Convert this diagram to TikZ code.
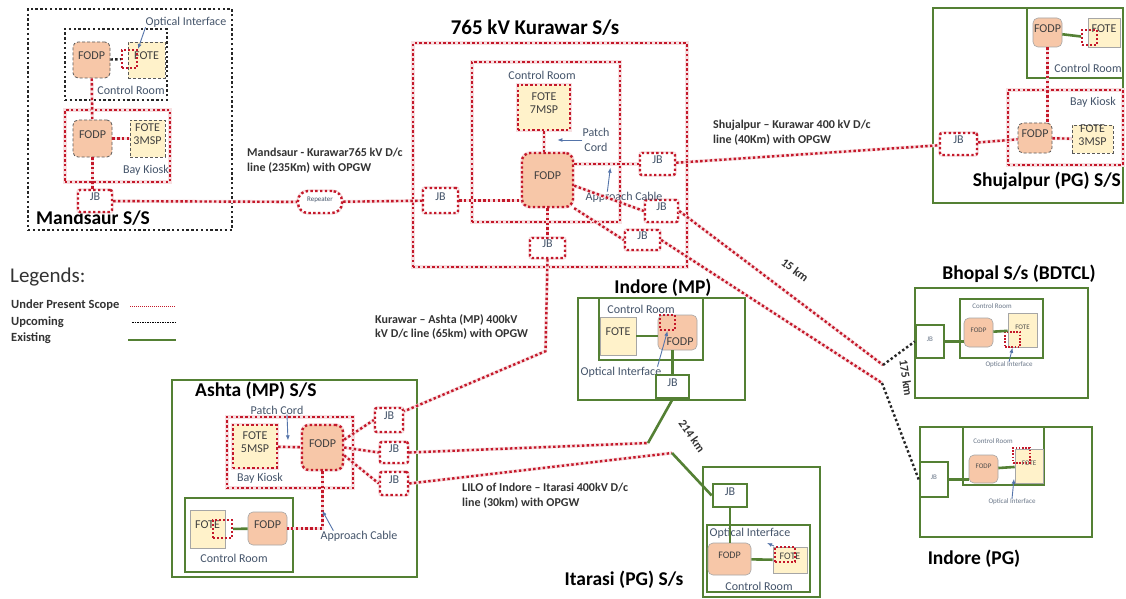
\documentclass[tikz,border=0pt]{standalone}
\usepackage{fontspec}
\setmainfont{Carlito}
\usetikzlibrary{arrows.meta,fit,calc}
\definecolor{scopered}{RGB}{196,24,42}
\definecolor{exgreen}{RGB}{84,128,52}
\definecolor{fodpc}{RGB}{247,199,168}
\definecolor{fotec}{RGB}{255,242,202}
\definecolor{ptrblue}{RGB}{84,116,170}
\definecolor{labc}{RGB}{68,84,106}
\tikzset{plainbox/.style={rectangle,inner sep=0pt},
  rdot/.style={draw=scopered,line width=2.4pt,dash pattern=on 2.4pt off 2.4pt,preaction={draw=scopered!14,solid,line width=3.4pt}},
  kdot/.style={draw=black!85,line width=2.4pt,dash pattern=on 2.4pt off 2.4pt},
  kdash/.style={draw=black!65,line width=0.8pt,dash pattern=on 3pt off 2pt},
  thinb/.style={draw=black!35,line width=0.6pt},
  redbox/.style={plainbox,rdot},blkbox/.style={plainbox,kdot},
  grnbox/.style={plainbox,draw=exgreen,line width=2.6pt},
  fodp/.style={plainbox,fill=fodpc,rounded corners=5pt,font=\fontsize{12}{13}\selectfont,text=black!75},
  fote/.style={plainbox,fill=fotec,align=center,font=\fontsize{12}{13}\selectfont,text=black!75},
  jb/.style={plainbox,fill=white,rounded corners=2pt,font=\fontsize{12}{13}\selectfont,text=labc},
  oi/.style={plainbox,draw=scopered,line width=2pt,dash pattern=on 2pt off 2pt},
  lab/.style={font=\fontsize{12}{13}\selectfont,text=labc,inner sep=0pt},
  tinylab/.style={font=\fontsize{7}{8}\selectfont,text=labc!80,inner sep=0pt},
  sstitle/.style={font=\fontsize{19.5}{22}\selectfont\bfseries,inner sep=0pt},
  linelab/.style={font=\fontsize{12}{14.5}\selectfont\bfseries,text=black!80,align=left,inner sep=0pt},
  kmlab/.style={font=\fontsize{12}{14}\selectfont\bfseries,text=black!80,inner sep=0pt},
  redline/.style={rdot},blkline/.style={kdot},grnline/.style={draw=exgreen,line width=2.6pt},
  pointer/.style={-{Latex[length=5pt,width=4pt]},draw=ptrblue,line width=0.9pt},
  legred/.style={draw=scopered,line width=0.9pt,dash pattern=on 1pt off 1pt},
  legblk/.style={draw=black,line width=0.8pt,dash pattern=on 1.5pt off 1pt},
  leggrn/.style={draw=exgreen,line width=1.5pt}}
\begin{document}
\begin{tikzpicture}[x=1pt,y=-1pt]
\fill[white] (0,0) rectangle (1126,599);
\useasboundingbox (0,0) rectangle (1126,599);
\node[blkbox,fit={(28,9) (232,230)}] (mdsbox) {};
\node[sstitle,anchor=west] (mdsname) at (36,218) {Mandsaur S/S};
\node[blkbox,fit={(65,29) (167,100)}] (mdscr) {};
\node[lab] (mdsoil) at (186,22) {Optical Interface};
\node[lab] (mdscrl) at (131,90) {Control Room};
\node[fodp,kdash,fit={(73,42) (110,78)}] (mdsfodp1) {FODP};
\node[fote,kdash,fit={(128,42) (165,78)}] (mdsfote1) {FOTE};
\node[oi,fit={(122,50) (137,68)}] (mdsoi) {};
\node[redbox,fit={(65,110) (170,182)}] (mdsbay) {};
\node[lab] (mdsbayl) at (146,170) {Bay Kiosk};
\node[fodp,kdash,fit={(73,120) (112,157)}] (mdsfodp2) {FODP};
\node[fote,kdash,fit={(130,120) (165,157)}] (mdsfote2) {FOTE\\3MSP};
\node[jb,rdot,fit={(78,190) (112,212)}] (mdsjb) {JB};
\node[jb,rdot,rounded corners=10pt,font=\fontsize{7}{8}\selectfont,fit={(298,191) (342,213)}] (rep) {Repeater};
\node[linelab,anchor=north west] (mklab) at (247,148) {Mandsaur - Kurawar765 kV D/c\\line (235Km) with OPGW};
\node[sstitle,font=\fontsize{21}{24}\selectfont\bfseries] (kurname) at (535,28) {765 kV Kurawar S/s};
\node[redbox,fit={(413,43) (687,267)}] (kurbox) {};
\node[redbox,fit={(472,62) (620,222)}] (kurcr) {};
\node[lab] (kurcrl) at (542,75) {Control Room};
\node[fote,rdot,fit={(518,85) (570,130)}] (kurfote) {FOTE\\7MSP};
\node[fodp,rdot,rounded corners=8pt,fit={(522,153) (573,207)}] (kurfodp) {FODP};
\node[lab,align=center,font=\fontsize{12}{15}\selectfont] (kurpc) at (596,140) {Patch\\Cord};
\node[jb,rdot,fit={(423,188) (458,213)}] (kurjbL) {JB};
\node[jb,rdot,fit={(640,153) (675,175)}] (kurjbR1) {JB};
\node[jb,rdot,fit={(645,200) (678,222)}] (kurjbR2) {JB};
\node[jb,rdot,fit={(625,230) (660,250)}] (kurjbR3) {JB};
\node[jb,rdot,fit={(530,238) (565,258)}] (kurjbB) {JB};
\node[lab] (kurac) at (624,197) {Approach Cable};
\node[linelab,anchor=north west] (shjlab) at (713,120) {Shujalpur – Kurawar 400 kV D/c\\line (40Km) with OPGW};
\node[linelab,anchor=north west] (ashlab) at (375,314) {Kurawar – Ashta (MP) 400kV\\kV D/c line (65km) with OPGW};
\node[grnbox,fit={(933,8) (1123,203)}] (shjbox) {};
\node[sstitle,anchor=east] (shjname) at (1121,181) {Shujalpur (PG) S/S};
\node[grnbox,fit={(1027,8) (1123,78)}] (shjcr) {};
\node[fodp,thinb,fit={(1033,18) (1062,47)}] (shjfodp1) {FODP};
\node[fote,thinb,fit={(1088,18) (1120,47)}] (shjfote1) {FOTE};
\node[oi,fit={(1082,30) (1097,45)}] (shjoi) {};
\node[lab] (shjcrl) at (1088,68) {Control Room};
\node[redbox,fit={(1008,90) (1123,165)}] (shjbay) {};
\node[lab] (shjbayl) at (1093,102) {Bay Kiosk};
\node[fodp,kdash,fit={(1018,123) (1052,153)}] (shjfodp2) {FODP};
\node[fote,kdash,fit={(1072,125) (1113,153)}] (shjfote2) {FOTE\\3MSP};
\node[jb,rdot,fit={(940,133) (977,155)}] (shjjb) {JB};
\node[sstitle] (impname) at (663,288) {Indore (MP)};
\node[grnbox,fit={(578,298) (745,400)}] (impbox) {};
\node[grnbox,fit={(599,298) (703,360)}] (impcr) {};
\node[lab] (impcrl) at (641,309) {Control Room};
\node[fote,thinb,fit={(600,317) (636,355)}] (impfote) {FOTE};
\node[fodp,thinb,fit={(658,315) (697,350)}] (impfodp) {};
\node[oi,fit={(660,315) (675,330)}] (impoi) {};
\node[lab,text=black!75] (impfodpl) at (680,342) {FODP};
\node[lab] (impoil) at (621,372) {Optical Interface};
\node[jb,grnbox,sharp corners,fit={(656,375) (689,398)}] (impjb) {JB};
\node[grnbox,fit={(172,380) (417,577)}] (ashbox) {};
\node[sstitle,anchor=west] (ashname) at (195,391) {Ashta (MP) S/S};
\node[redbox,fit={(227,417) (353,488)}] (ashbay) {};
\node[lab] (ashpcl) at (277,410) {Patch Cord};
\node[fote,rdot,fit={(233,425) (277,468)}] (ashfote) {FOTE\\5MSP};
\node[fodp,rdot,rounded corners=7pt,fit={(302,425) (343,470)}] (ashfodp) {FODP};
\node[lab] (ashbayl) at (260,478) {Bay Kiosk};
\node[jb,rdot,fit={(375,408) (403,432)}] (ashjb1) {JB};
\node[jb,rdot,fit={(380,442) (408,463)}] (ashjb2) {JB};
\node[jb,rdot,fit={(380,472) (408,495)}] (ashjb3) {JB};
\node[grnbox,fit={(185,498) (293,572)}] (ashcr) {};
\node[fote,thinb,fit={(190,510) (225,548)}] (ashfote2) {FOTE};
\node[oi,fit={(213,520) (232,538)}] (ashoi) {};
\node[fodp,thinb,fit={(248,512) (287,545)}] (ashfodp2) {FODP};
\node[lab] (ashcrl) at (234,558) {Control Room};
\node[lab] (ashacl) at (359,536) {Approach Cable};
\node[linelab,anchor=north west] (lilolab) at (462,483) {LILO of Indore – Itarasi 400kV D/c\\line (30km) with OPGW};
\node[sstitle] (itaname) at (624,580) {Itarasi (PG) S/s};
\node[grnbox,fit={(703,467) (820,597)}] (itabox) {};
\node[jb,grnbox,sharp corners,fit={(713,484) (747,507)}] (itajb) {JB};
\node[grnbox,fit={(707,525) (810,592)}] (itacr) {};
\node[lab] (itaoil) at (750,533) {Optical Interface};
\node[fodp,thinb,font=\fontsize{10}{11}\selectfont,fit={(708,543) (751,575)}] (itafodp) {FODP};
\node[fote,thinb,font=\fontsize{10}{11}\selectfont,fit={(773,547) (807,573)}] (itafote) {FOTE};
\node[oi,fit={(775,547) (795,562)}] (itaoi) {};
\node[lab] (itacrl) at (759,586) {Control Room};
\node[sstitle] (bhpname) at (1019,274) {Bhopal S/s (BDTCL)};
\node[grnbox,fit={(915,288) (1088,398)}] (bhpbox) {};
\node[grnbox,fit={(960,299) (1043,358)}] (bhpcr) {};
\node[tinylab] (bhpcrl) at (992,306) {Control Room};
\node[jb,grnbox,sharp corners,tinylab,fit={(916,325) (944,358)}] (bhpjb) {JB};
\node[fodp,thinb,tinylab,text=black!70,fit={(964,318) (993,347)}] (bhpfodp) {FODP};
\node[fote,thinb,tinylab,text=black!70,fit={(1008,313) (1037,347)}] (bhpfote) {FOTE};
\node[oi,line width=1.6pt,dash pattern=on 1.6pt off 1.6pt,fit={(1005,332) (1020,347)}] (bhpoi) {};
\node[tinylab] (bhpoil) at (1009,365) {Optical Interface};
\node[sstitle] (ipgname) at (974,559) {Indore (PG)};
\node[grnbox,fit={(920,427) (1092,537)}] (ipgbox) {};
\node[grnbox,fit={(963,427) (1044,485)}] (ipgcr) {};
\node[tinylab] (ipgcrl) at (993,441) {Control Room};
\node[jb,grnbox,sharp corners,tinylab,fit={(920,462) (948,497)}] (ipgjb) {JB};
\node[fodp,thinb,tinylab,text=black!70,fit={(969,455) (998,483)}] (ipgfodp) {FODP};
\node[fote,thinb,tinylab,text=black!70,fit={(1015,449) (1043,483)}] (ipgfote) {FOTE};
\node[oi,line width=1.6pt,dash pattern=on 1.6pt off 1.6pt,fit={(1013,448) (1030,463)}] (ipgoi) {};
\node[tinylab] (ipgoil) at (1012,502) {Optical Interface};
\coordinate (bend1) at (883,365);\coordinate (bend2) at (882,383);
\coordinate (lilo1) at (648,443);\coordinate (lilo2) at (672,453);
\draw[blkline] (mdsfodp1) -- (mdsoi);
\draw[redline] (mdsfodp1) -- (mdsfodp2);\draw[redline] (mdsfodp2) -- (mdsfote2);
\draw[redline] (mdsfodp2.south) -- (mdsfodp2.south |- mdsjb.north);
\draw[redline] (mdsjb) -- (rep) -- (kurjbL);
\draw[pointer] (mdsoil.south west) -- (mdsoi.north east);
\draw[redline] (kurfote.south) -- (kurfote.south |- kurfodp.north);
\draw[redline] (kurjbL) -- (kurjbL -| kurfodp.west);
\draw[redline] (kurfodp.east |- kurjbR1) -- (kurjbR1);
\draw[redline] (kurfodp.-12) -- (kurjbR2.west);
\draw[redline] (kurfodp.south east) -- (kurjbR3.west);
\draw[redline] (kurfodp.south) -- (kurjbB.north);
\draw[pointer] (kurpc.west) -- ++(-25,0);
\draw[pointer] ($(kurac.north west)+(22,0)$) -- ++(3,-24);
\draw[redline] (kurjbR1) -- (shjjb);
\draw[redline] (kurjbB.south) -- ++(-2,92) -- (ashjb1.30);
\draw[grnline] (shjfodp1) -- (shjoi);
\draw[redline] (shjfodp1.south) -- (shjfodp1.south |- shjfodp2.north);
\draw[redline] (shjfodp2) -- (shjfote2);\draw[redline] (shjjb) -- (shjfodp2);
\draw[grnline] (impfote.east) -- (impfote.east -| impfodp.west);
\draw[grnline] (impjb.north) -- (impjb.north |- impfodp.south);
\draw[pointer] ($(impoil.north east)+(-4,0)$) -- (impoi.south);
\draw[redline] (ashfote) -- (ashfodp);
\draw[redline] (ashfodp.20) -- (ashjb1.west);\draw[redline] (ashfodp.east) -- (ashjb2.west);\draw[redline] (ashfodp.-20) -- (ashjb3.west);
\draw[grnline] (ashoi) -- (ashfodp2);
\draw[redline] (ashfodp.south) -- (ashfodp.south |- ashfodp2) -- (ashfodp2.east);
\draw[pointer] ($(ashpcl.south)+(10,0)$) -- ++(1,26);
\draw[pointer] ($(ashacl.north west)+(13,0)$) -- ++(-11,-20);
\draw[redline] (ashjb2.east) -- (lilo1);\draw[redline] (ashjb3.east) -- (lilo2);
\draw[grnline] (impjb.south) -- (lilo1);\draw[grnline] (lilo2) -- (itajb.west);
\node[kmlab,rotate=-55] (km214) at (692,436) {214 km};
\draw[grnline] (itafodp) -- (itafote);
\draw[grnline] (itajb.south) -- (itajb.south |- itafodp.north);
\draw[pointer] (itaoi.north west) -- ++(-7,-3);
\draw[grnline] (bhpjb) -- (bhpjb -| bhpfodp.west);\draw[grnline] (bhpfodp) -- (bhpfote);
\draw[pointer] (bhpoil.north) -- (bhpoi.south);
\draw[grnline] (ipgjb) -- (ipgjb -| ipgfodp.west);\draw[grnline] (ipgfodp) -- (ipgfote);
\draw[pointer] (ipgoil.north) -- ++(2,-20);
\draw[redline] (kurjbR2.east) -- (bend1);\draw[redline] (kurjbR3.east) -- (bend2);
\draw[blkline] (bend1) -- (bhpjb.west);\draw[blkline] (bend2) -- (ipgjb.west);
\node[kmlab,rotate=-37] (km15) at (795,270) {15 km};
\node[kmlab,rotate=-82] (km175) at (906,378) {175 km};
\node[anchor=west,font=\fontsize{21}{24}\selectfont,text=black!80,inner sep=0pt] (legname) at (10,277) {Legends:};
\node[kmlab,anchor=west,font=\fontsize{12.5}{14}\selectfont\bfseries] (leg1) at (11,305) {Under Present Scope};
\node[kmlab,anchor=west,font=\fontsize{12.5}{14}\selectfont\bfseries] (leg2) at (11,322) {Upcoming};
\node[kmlab,anchor=west,font=\fontsize{12.5}{14}\selectfont\bfseries] (leg3) at (11,338) {Existing};
\coordinate (l1a) at (130,306);\coordinate (l1b) at (176,306);
\coordinate (l2a) at (132,322);\coordinate (l2b) at (176,322);
\coordinate (l3a) at (128,340);\coordinate (l3b) at (176,340);
\draw[legred] (l1a) -- (l1b);\draw[legblk] (l2a) -- (l2b);\draw[leggrn] (l3a) -- (l3b);
\end{tikzpicture}
\end{document}
